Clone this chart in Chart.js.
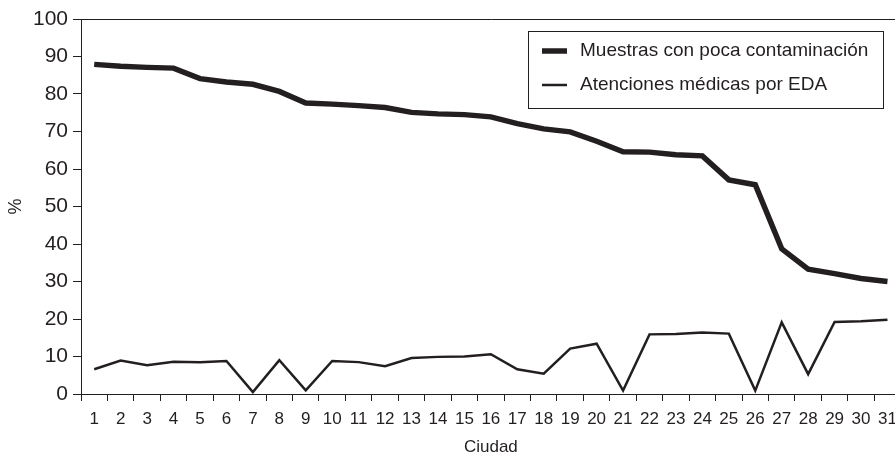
<!DOCTYPE html>
<html>
<head>
<meta charset="utf-8">
<script src="https://cdn.jsdelivr.net/npm/chart.js@4"></script>
<style>
    html, body { margin: 0; padding: 0; background: #fff; overflow: hidden; }
    #wrap { width: 905px; height: 460px; }
</style>
</head>
<body>
<div id="wrap"><canvas id="chart"></canvas></div>
<script>
// ciudades 1..31
const ciudades = ['1','2','3','4','5','6','7','8','9','10','11','12','13','14','15','16',
    '17','18','19','20','21','22','23','24','25','26','27','28','29','30','31'];

// % de muestras con poca contaminación
const muestras = [87.9, 87.4, 87.1, 86.9, 84.1, 83.2, 82.6, 80.7, 77.6, 77.3, 76.9, 76.4,
    75.1, 74.7, 74.5, 73.9, 72.1, 70.7, 69.9, 67.4, 64.6, 64.5, 63.8, 63.5, 57.1, 55.8,
    38.7, 33.3, 32.1, 30.8, 30.0];

// % de atenciones médicas por EDA
const atenciones = [6.6, 8.9, 7.7, 8.6, 8.5, 8.8, 0.5, 9.0, 1.0, 8.8, 8.5, 7.4, 9.6, 9.9,
    10.0, 10.6, 6.6, 5.4, 12.1, 13.4, 0.9, 15.9, 16.0, 16.4, 16.1, 0.9, 19.1, 5.3, 19.2,
    19.4, 19.8];

const yTicks = [0, 10, 20, 30, 40, 50, 60, 70, 80, 90, 100];

const ink = '#231f20';
const font = 'Liberation Sans, Arial, sans-serif';

// leyenda con recuadro dentro del área del gráfico
const boxLegend = {
    id: 'boxLegend',
    afterDraw(chart, args, opts) {
        const ctx = chart.ctx;
        ctx.save();
        ctx.strokeStyle = ink;
        ctx.lineWidth = 1;
        ctx.strokeRect(opts.x + 0.5, opts.y + 0.5, opts.w, opts.h);
        ctx.font = opts.fontSize + 'px ' + font;
        ctx.fillStyle = ink;
        ctx.textBaseline = 'middle';
        chart.data.datasets.forEach((ds, i) => {
            const cy = opts.y + opts.rowY[i];
            ctx.beginPath();
            ctx.lineWidth = ds.borderWidth;
            ctx.moveTo(opts.x + 14, cy);
            ctx.lineTo(opts.x + 39, cy);
            ctx.stroke();
            ctx.fillText(ds.label, opts.x + 52, cy);
        });
        ctx.restore();
    }
};

new Chart(document.getElementById('chart'), {
    type: 'line',
    data: {
        labels: ciudades,
        datasets: [
            {
                label: 'Muestras con poca contaminación',
                data: muestras,
                borderColor: ink,
                borderWidth: 5.5,
                pointRadius: 0,
                tension: 0
            },
            {
                label: 'Atenciones médicas por EDA',
                data: atenciones,
                borderColor: ink,
                borderWidth: 2.5,
                pointRadius: 0,
                tension: 0
            }
        ]
    },
    options: {
        responsive: true,
        maintainAspectRatio: false,
        animation: false,
        layout: { padding: { top: 19, right: 4, left: 0, bottom: 0 } },
        plugins: {
            legend: { display: false },
            tooltip: { enabled: false },
            boxLegend: { x: 528, y: 31, w: 355, h: 77, fontSize: 19, rowY: [20, 54] }
        },
        scales: {
            x: {
                offset: true,
                grid: {
                    offset: true,
                    drawOnChartArea: false,
                    tickLength: 7,
                    tickColor: ink
                },
                border: { color: ink, width: 1 },
                ticks: {
                    color: ink,
                    font: { family: font, size: 17 },
                    padding: 8,
                    maxRotation: 0,
                    autoSkip: false
                },
                title: {
                    display: true,
                    text: 'Ciudad',
                    color: ink,
                    font: { family: font, size: 17 },
                    padding: { top: 0, bottom: 2 }
                },
                afterFit: s => { s.height = 66; }
            },
            y: {
                min: 0,
                max: 100,
                afterBuildTicks: s => { s.ticks = yTicks.map(v => ({ value: v })); },
                grid: {
                    color: c => (c.tick && c.tick.value === 100 ? ink : 'transparent'),
                    tickColor: ink,
                    tickLength: 8
                },
                border: { color: ink, width: 1 },
                ticks: {
                    color: ink,
                    font: { family: font, size: 21 },
                    padding: 5
                },
                title: {
                    display: true,
                    text: '%',
                    color: ink,
                    font: { family: font, size: 18 },
                    padding: { top: 5, bottom: 0 }
                },
                afterFit: s => { s.width = 81; }
            }
        }
    },
    plugins: [boxLegend]
});
</script>
</body>
</html>
